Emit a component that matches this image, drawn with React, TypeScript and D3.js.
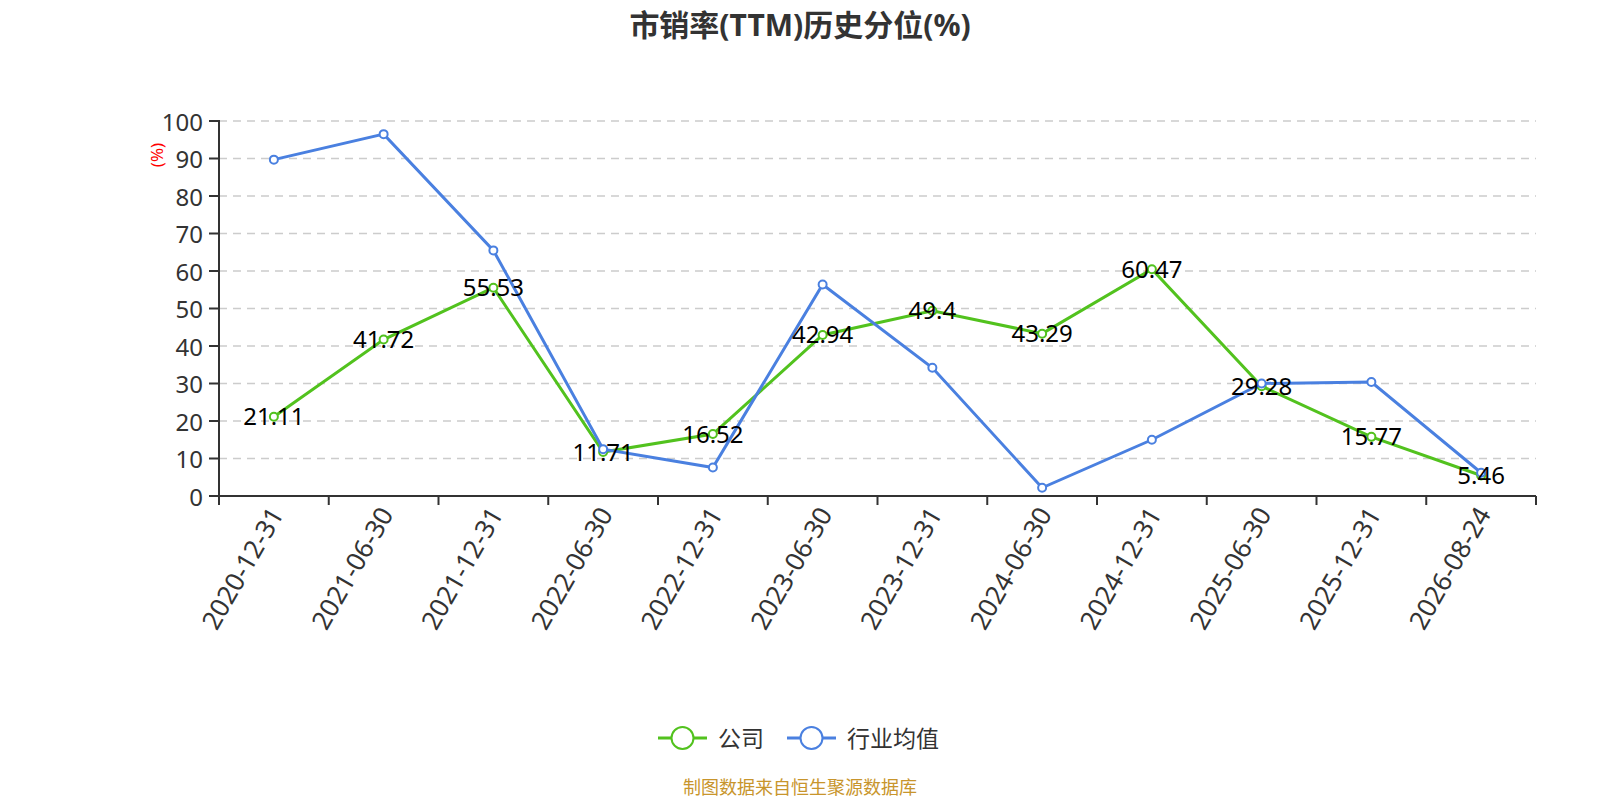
import React from "react";
import * as d3 from "d3";

const categories = ["2020-12-31","2021-06-30","2021-12-31","2022-06-30","2022-12-31","2023-06-30","2023-12-31","2024-06-30","2024-12-31","2025-06-30","2025-12-31","2026-08-24"];
const companyValues = [21.11, 41.72, 55.53, 11.71, 16.52, 42.94, 49.4, 43.29, 60.47, 29.28, 15.77, 5.46];
const industryValues = [89.7, 96.5, 65.5, 12.5, 7.6, 56.4, 34.2, 2.2, 15.0, 30.0, 30.4, 6.2];
const yTicks = [0, 10, 20, 30, 40, 50, 60, 70, 80, 90, 100];
const seriesNames = ["公司", "行业均值"];

const GREEN = "#52c21e";
const BLUE = "#4a80e0";
const FONT = "'Noto Sans', 'Noto Sans CJK SC', sans-serif";

export default function App() {
  const left = 219, right = 1536, top = 121, bottom = 496;
  const x = d3.scaleBand<string>().domain(categories).range([left, right]);
  const y = d3.scaleLinear().domain([0, 100]).range([bottom, top]);
  const cx = (c: string) => (x(c) as number) + x.bandwidth() / 2;
  const line = d3.line<number>().x((_, i) => cx(categories[i])).y((d) => y(d));
  const series = [
    { name: seriesNames[0], values: companyValues, color: GREEN },
    { name: seriesNames[1], values: industryValues, color: BLUE },
  ];
  const bounds = [...categories.map((c) => x(c) as number), right];

  return (
    <svg width={1600} height={800} style={{ position: "absolute", left: 0, top: 0 }} fontFamily={FONT}>
      <rect width={1600} height={800} fill="#fff" />
      <text x={800} y={24} textAnchor="middle" dominantBaseline="central" fontSize={30} fontWeight="bold" fill="#333">市销率(TTM)历史分位(%)</text>

      {yTicks.map((t) => (
        <g key={t}>
          {t > 0 && <line x1={left} x2={right} y1={y(t)} y2={y(t)} stroke="#ccc" strokeWidth={1.5} strokeDasharray="8,6" />}
          <line x1={left - 10} x2={left} y1={y(t)} y2={y(t)} stroke="#333" strokeWidth={2} />
          <text x={left - 16} y={y(t)} textAnchor="end" dominantBaseline="central" fontSize={24} fill="#333">{t}</text>
        </g>
      ))}
      <text transform={`translate(156,155) rotate(-90)`} textAnchor="middle" dominantBaseline="central" fontSize={17} fill="red">(%)</text>
      <line x1={left} x2={left} y1={top - 1} y2={bottom} stroke="#333" strokeWidth={2} />
      <line x1={left} x2={right} y1={bottom} y2={bottom} stroke="#333" strokeWidth={2} />
      {bounds.map((b, i) => (
        <line key={i} x1={b} x2={b} y1={bottom} y2={bottom + 9} stroke="#333" strokeWidth={2} />
      ))}
      {categories.map((c) => (
        <text key={c} transform={`translate(${cx(c) + 2},${bottom + 13}) rotate(-60)`} textAnchor="end" dominantBaseline="central" fontSize={26} fill="#333">{c}</text>
      ))}

      {series.map((s) => (
        <g key={s.name}>
          <path d={line(s.values) as string} fill="none" stroke={s.color} strokeWidth={3} />
          {s.values.map((v, i) => (
            <circle key={i} cx={cx(categories[i])} cy={y(v)} r={4} fill="#fff" stroke={s.color} strokeWidth={2} />
          ))}
        </g>
      ))}
      {companyValues.map((v, i) => (
        <text key={i} x={cx(categories[i])} y={y(v) - 1} textAnchor="middle" dominantBaseline="central" fontSize={24} fill="#000">{v}</text>
      ))}

      {[
        { lx: 658, tx: 718, s: series[0] },
        { lx: 787, tx: 847, s: series[1] },
      ].map(({ lx, tx, s }) => (
        <g key={s.name}>
          <line x1={lx} x2={lx + 49} y1={738} y2={738} stroke={s.color} strokeWidth={3} />
          <circle cx={lx + 24.5} cy={738} r={11} fill="#fff" stroke={s.color} strokeWidth={2} />
          <text x={tx} y={738} dominantBaseline="central" fontSize={23} fill="#333">{s.name}</text>
        </g>
      ))}
      <text x={800} y={787} textAnchor="middle" dominantBaseline="central" fontSize={18} fill="#c8952c">制图数据来自恒生聚源数据库</text>
    </svg>
  );
}
